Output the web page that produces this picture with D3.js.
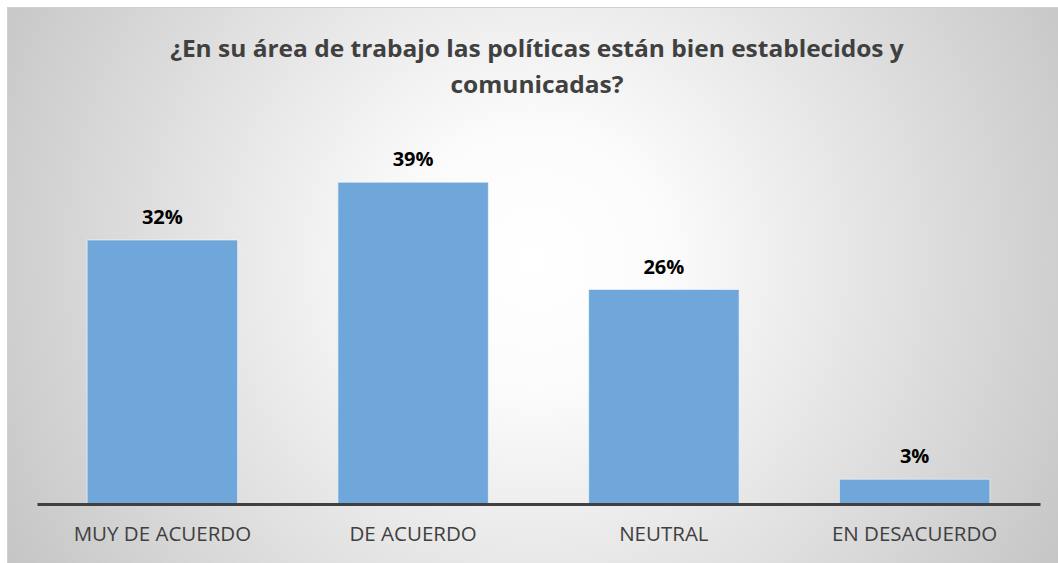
<!DOCTYPE html>
<html>
<head>
<meta charset="utf-8">
<script src="https://cdn.jsdelivr.net/npm/d3@7"></script>
<style>
  html, body { margin: 0; padding: 0; background: #ffffff; }
  svg { display: block; }
</style>
</head>
<body>
<svg id="chart" width="1058" height="563"></svg>
<script>
// Survey answers and their share of responses
const categories = ["MUY DE ACUERDO", "DE ACUERDO", "NEUTRAL", "EN DESACUERDO"];
const values = [0.32, 0.39, 0.26, 0.03];
const titleLines = ["¿En su área de trabajo las políticas están bien establecidos y", "comunicadas?"];

const W = 1058, H = 563;
const svg = d3.select("#chart");

// Background panel with a soft radial gradient
const defs = svg.append("defs");
const grad = defs.append("radialGradient")
  .attr("id", "bg")
  .attr("gradientUnits", "userSpaceOnUse")
  .attr("cx", 535).attr("cy", 260).attr("r", 610);
grad.append("stop").attr("offset", "0").attr("stop-color", "#ffffff");
grad.append("stop").attr("offset", "0.22").attr("stop-color", "#fbfbfb");
grad.append("stop").attr("offset", "1").attr("stop-color", "#c5c5c5");

svg.append("rect")
  .attr("x", 7.5).attr("y", 7.5)
  .attr("width", W - 7).attr("height", H - 7)
  .attr("fill", "url(#bg)")
  .attr("stroke", "#d0d0d0").attr("stroke-width", 1);

const margin = { left: 37, right: 18, top: 174, bottom: 59 };
const baseline = H - margin.bottom;

const x = d3.scaleBand()
  .domain(categories)
  .range([margin.left, W - margin.right])
  .paddingInner(0.4)
  .paddingOuter(0.2);

const y = d3.scaleLinear()
  .domain([0, 0.40])
  .range([baseline, margin.top]);

// Bars
svg.append("g").selectAll("rect")
  .data(categories)
  .join("rect")
  .attr("x", d => x(d))
  .attr("y", (d, i) => y(values[i]))
  .attr("width", x.bandwidth())
  .attr("height", (d, i) => baseline - y(values[i]))
  .attr("fill", "#70a7da")
  .attr("stroke", "rgba(255,255,255,0.55)")
  .attr("stroke-width", 1);

// Value labels above bars
const fmt = d3.format(".0%");
svg.append("g").selectAll("text")
  .data(categories)
  .join("text")
  .attr("x", d => x(d) + x.bandwidth() / 2)
  .attr("y", (d, i) => y(values[i]) - 16)
  .attr("text-anchor", "middle")
  .attr("font-family", "'Open Sans', sans-serif")
  .attr("font-weight", "bold")
  .attr("font-size", 20)
  .attr("fill", "#000000")
  .text((d, i) => fmt(values[i]));

// Category axis
const axis = d3.axisBottom(x).tickSize(0).tickPadding(22);
const gAxis = svg.append("g")
  .attr("transform", `translate(0,${baseline})`)
  .call(axis);
gAxis.select(".domain")
  .attr("stroke", "#404040")
  .attr("stroke-width", 3);
gAxis.selectAll(".tick text")
  .attr("font-family", "'Open Sans', sans-serif")
  .attr("font-size", 20.5)
  .attr("fill", "#404040");

// Title, slightly widened
svg.append("g").selectAll("text")
  .data(titleLines)
  .join("text")
  .attr("transform", (d, i) => `translate(${W / 2 + 8},${57 + i * 36}) scale(1.065,1)`)
  .attr("text-anchor", "middle")
  .attr("font-family", "'Open Sans', sans-serif")
  .attr("font-weight", "bold")
  .attr("font-size", 23)
  .attr("fill", "#404040")
  .text(d => d);
</script>
</body>
</html>
